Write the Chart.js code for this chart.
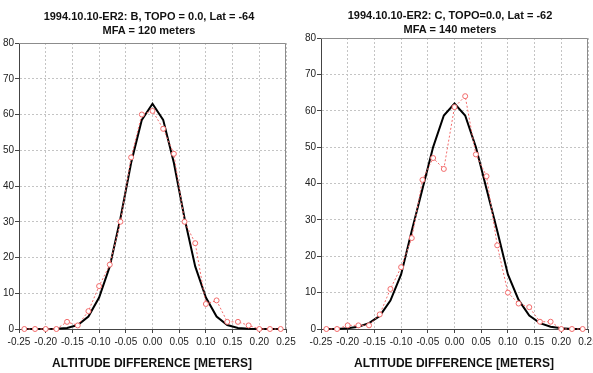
<!DOCTYPE html>
<html>
<head>
<title>Altitude difference histograms</title>
<script src="https://cdn.jsdelivr.net/npm/chart.js"></script>
<style>
    body {
        margin: 0;
        background: #ffffff;
        font-family: 'Liberation Sans', Arial, sans-serif;
    }
    #wrap {
        position: relative;
        width: 593px;
        height: 373px;
        overflow: hidden;
    }
    canvas {
        position: absolute;
        top: 0;
    }
    .title {
        position: absolute;
        text-align: center;
        font-weight: bold;
        font-size: 11px;
        line-height: 14px;
        color: #111;
        white-space: nowrap;
        transform: translateX(-50%);
    }
    .xtitle {
        position: absolute;
        font-weight: bold;
        font-size: 12px;
        color: #111;
        white-space: nowrap;
        transform: translateX(-50%);
        top: 356px;
    }
</style>
</head>
<body>
<div id="wrap">
    <canvas id="leftChart" width="296" height="373" style="left:0px"></canvas>
    <canvas id="rightChart" width="291" height="373" style="left:302px"></canvas>
    <div class="title" style="left:149px; top:9px">1994.10.10-ER2: B, TOPO = 0.0, Lat = -64<br>MFA = 120 meters</div>
    <div class="title" style="left:450px; top:8px">1994.10.10-ER2: C, TOPO=0.0, Lat = -62<br>MFA = 140 meters</div>
    <div class="xtitle" style="left:152px">ALTITUDE DIFFERENCE [METERS]</div>
    <div class="xtitle" style="left:454px">ALTITUDE DIFFERENCE [METERS]</div>
</div>
<script>
    // bin centres (meters)
    const bins = [-0.24, -0.22, -0.20, -0.18, -0.16, -0.14, -0.12, -0.10, -0.08, -0.06, -0.04, -0.02,
        0.00, 0.02, 0.04, 0.06, 0.08, 0.10, 0.12, 0.14, 0.16, 0.18, 0.20, 0.22, 0.24];

    // B, MFA = 120 m
    const leftObserved = [0, 0, 0, 0, 2, 1, 5, 12, 18, 30, 48, 60, 61, 56, 49, 30, 24, 7, 8, 2, 2, 1, 0, 0, 0];
    const leftModel = [0, 0, 0, 0.05, 0.3, 1.1, 3.5, 8.8, 17.5, 31, 46.5, 58.5, 63, 58.5, 46.5, 31, 17.5, 8.8, 3.5, 1.1, 0.3, 0.05, 0, 0, 0];

    // C, MFA = 140 m
    const rightObserved = [0, 0, 1, 1, 1, 4, 11, 17, 25, 41, 47, 44, 61, 64, 48, 42, 23, 10, 7, 6, 2, 2, 0, 0, 0];
    const rightModel = [0, 0, 0.2, 0.6, 1.6, 3.6, 7.8, 15, 27, 38.5, 50, 58.7, 62, 58.7, 50, 38.5, 27, 15, 8, 3.7, 1.6, 0.6, 0.2, 0, 0];

    const xTicks = { min: -0.25, max: 0.25, step: 0.05 };
    const yTicks = { min: 0, max: 80, step: 10 };

    function pts(values) {
        return bins.map((b, i) => ({ x: b, y: values[i] }));
    }

    // gray frame on top and right of the plot area
    const frame = {
        id: 'frame',
        beforeDatasetsDraw(chart) {
            const a = chart.chartArea;
            const ctx = chart.ctx;
            ctx.save();
            ctx.strokeStyle = '#8c8c8c';
            ctx.lineWidth = 1;
            ctx.beginPath();
            ctx.moveTo(a.left, a.top + 0.5);
            ctx.lineTo(a.right - 0.5, a.top + 0.5);
            ctx.lineTo(a.right - 0.5, a.bottom);
            ctx.stroke();
            ctx.restore();
        }
    };

    function makeChart(id, observed, model, top, right) {
        const ctx = document.getElementById(id).getContext('2d');
        return new Chart(ctx, {
            type: 'line',
            data: {
                datasets: [{
                    data: pts(model),
                    borderColor: '#000000',
                    borderWidth: 2,
                    pointRadius: 0,
                    tension: 0,
                    clip: false,
                    order: 2
                }, {
                    data: pts(observed),
                    borderColor: '#f26b6b',
                    borderWidth: 1,
                    borderDash: [2, 2],
                    pointRadius: 2.5,
                    pointBorderColor: '#f26b6b',
                    pointBackgroundColor: '#ffffff',
                    pointBorderWidth: 1,
                    tension: 0,
                    clip: false,
                    order: 1
                }]
            },
            options: {
                responsive: false,
                devicePixelRatio: 1,
                animation: false,
                layout: { padding: { top: top, right: right, bottom: 0, left: 0 } },
                plugins: {
                    legend: { display: false },
                    tooltip: { enabled: false }
                },
                scales: {
                    x: {
                        type: 'linear',
                        min: xTicks.min,
                        max: xTicks.max,
                        afterFit(scale) {
                            scale.height = 44;
                            scale.paddingLeft = 0;
                            scale.paddingRight = 0;
                        },
                        ticks: {
                            stepSize: xTicks.step,
                            autoSkip: false,
                            maxRotation: 0,
                            minRotation: 0,
                            padding: 3,
                            color: '#222',
                            font: { family: 'Liberation Sans', size: 10 },
                            callback: v => Math.abs(v) < 1e-9 ? '0.00' : v.toFixed(2)
                        },
                        grid: {
                            color: '#c4c4c4',
                            tickColor: '#444',
                            tickLength: 4
                        },
                        border: { color: '#444', width: 1, dash: [2, 2] }
                    },
                    y: {
                        min: yTicks.min,
                        max: yTicks.max,
                        afterFit(scale) {
                            scale.width = 19;
                            scale.paddingTop = 0;
                            scale.paddingBottom = 0;
                        },
                        ticks: {
                            stepSize: yTicks.step,
                            padding: 1,
                            color: '#222',
                            font: { family: 'Liberation Sans', size: 10 }
                        },
                        grid: {
                            color: '#c4c4c4',
                            tickColor: '#444',
                            tickLength: 4
                        },
                        border: { color: '#444', width: 1, dash: [2, 2] }
                    }
                }
            },
            plugins: [frame]
        });
    }

    makeChart('leftChart', leftObserved, leftModel, 43, 10);
    makeChart('rightChart', rightObserved, rightModel, 38, 4);
</script>
</body>
</html>
